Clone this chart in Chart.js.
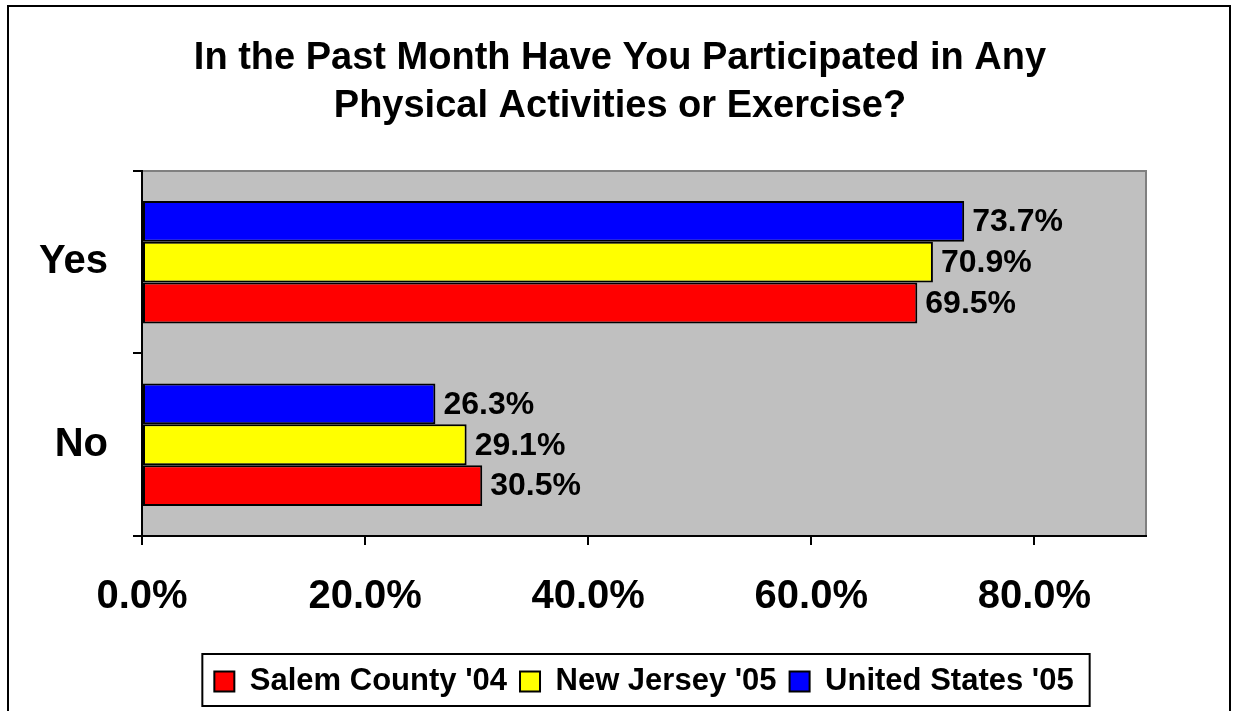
<!DOCTYPE html>
<html>
<head>
<meta charset="utf-8">
<script src="https://cdn.jsdelivr.net/npm/chart.js@4"></script>
<style>
  html, body { margin: 0; padding: 0; background: #fff; }
  #wrap { width: 1233px; height: 711px; }
</style>
</head>
<body>
<div id="wrap"><canvas id="grafico" width="1233" height="711"></canvas></div>
<script>
// datos
const categorias = ['Yes', 'No'];
const salem = [69.5, 30.5];
const newJersey = [70.9, 29.1];
const estadosUnidos = [73.7, 26.3];
const ticksX = [0, 20, 40, 60, 80];
const maxX = 90;

Chart.defaults.font.family = "'Liberation Sans', Arial, sans-serif";
Chart.defaults.font.weight = 'bold';
Chart.defaults.color = '#000';

// marco exterior y fondo gris del area de trazado
const fondo = {
    id: 'fondo',
    beforeDraw(chart) {
        const c = chart.ctx;
        const a = chart.chartArea;
        c.save();
        c.strokeStyle = '#000';
        c.lineWidth = 2;
        c.strokeRect(8, 6, 1222, 800);
        c.fillStyle = '#c0c0c0';
        c.fillRect(a.left, a.top, a.right - a.left, a.bottom - a.top);
        c.strokeStyle = '#808080';
        c.beginPath();
        c.moveTo(a.left, a.top);
        c.lineTo(a.right, a.top);
        c.lineTo(a.right, a.bottom);
        c.stroke();
        c.restore();
    },
    afterDraw(chart) {
        // recuadro de la leyenda
        const lg = chart.legend;
        const cajas = lg.legendHitBoxes;
        if (!cajas.length) return;
        const izq = Math.min(...cajas.map(b => b.left)) - 12;
        const der = Math.max(...cajas.map(b => b.left + b.width)) + 16;
        const c = chart.ctx;
        c.save();
        c.strokeStyle = '#000';
        c.lineWidth = 2;
        c.strokeRect(izq, lg.top + 1, der - izq, lg.bottom - lg.top - 2);
        c.restore();
    }
};

// etiquetas de valor al final de cada barra
const etiquetas = {
    id: 'etiquetas',
    afterDatasetsDraw(chart) {
        const c = chart.ctx;
        c.save();
        c.font = "bold 32px 'Liberation Sans', Arial, sans-serif";
        c.fillStyle = '#000';
        c.textAlign = 'left';
        c.textBaseline = 'middle';
        chart.data.datasets.forEach((ds, i) => {
            chart.getDatasetMeta(i).data.forEach((bar, j) => {
                c.fillText(ds.data[j].toFixed(1) + '%', bar.x + 8, bar.y + 1);
            });
        });
        c.restore();
    }
};

const ctx = document.getElementById('grafico');

new Chart(ctx, {
    type: 'bar',
    data: {
        labels: categorias,
        datasets: [{
            label: "United States '05",
            data: estadosUnidos,
            backgroundColor: '#0000ff',
            borderColor: '#000',
            borderWidth: 2,
            borderSkipped: false
        }, {
            label: "New Jersey '05",
            data: newJersey,
            backgroundColor: '#ffff00',
            borderColor: '#000',
            borderWidth: 2,
            borderSkipped: false
        }, {
            label: "Salem County '04",
            data: salem,
            backgroundColor: '#ff0000',
            borderColor: '#000',
            borderWidth: 2,
            borderSkipped: false
        }]
    },
    options: {
        indexAxis: 'y',
        responsive: false,
        animation: false,
        categoryPercentage: 0.67,
        barPercentage: 1,
        layout: { padding: { left: 7, right: 0, top: 0, bottom: 4 } },
        plugins: {
            title: {
                display: true,
                text: ['In the Past Month Have You Participated in Any', 'Physical Activities or Exercise?'],
                font: { size: 38, weight: 'bold', lineHeight: 1.263 },
                color: '#000',
                padding: { top: 35, bottom: 40 }
            },
            legend: {
                position: 'bottom',
                fullSize: false,
                reverse: true,
                labels: {
                    boxWidth: 20,
                    boxHeight: 20,
                    padding: 13,
                    font: { size: 31, weight: 'bold' },
                    color: '#000'
                }
            },
            tooltip: { enabled: false }
        },
        scales: {
            x: {
                min: 0,
                max: maxX,
                afterBuildTicks: s => { s.ticks = ticksX.map(v => ({ value: v })); },
                afterFit: s => { s.height = 117; },
                ticks: {
                    padding: 28,
                    font: { size: 40, weight: 'bold' },
                    color: '#000',
                    callback: v => v.toFixed(1) + '%'
                },
                grid: { drawOnChartArea: false, tickLength: 9, color: '#000', lineWidth: 2 },
                border: { display: true, color: '#000', width: 2 }
            },
            y: {
                afterFit: s => { s.width = 135; },
                ticks: {
                    padding: 25,
                    font: { size: 40, weight: 'bold' },
                    color: '#000'
                },
                grid: { drawOnChartArea: false, tickLength: 9, color: '#000', lineWidth: 2 },
                border: { display: true, color: '#000', width: 2 }
            },
            // margen derecho vacio
            derecha: {
                type: 'linear',
                position: 'right',
                afterFit: s => { s.width = 87; },
                ticks: { display: false },
                grid: { display: false },
                border: { display: false }
            }
        }
    },
    plugins: [fondo, etiquetas]
});
</script>
</body>
</html>
